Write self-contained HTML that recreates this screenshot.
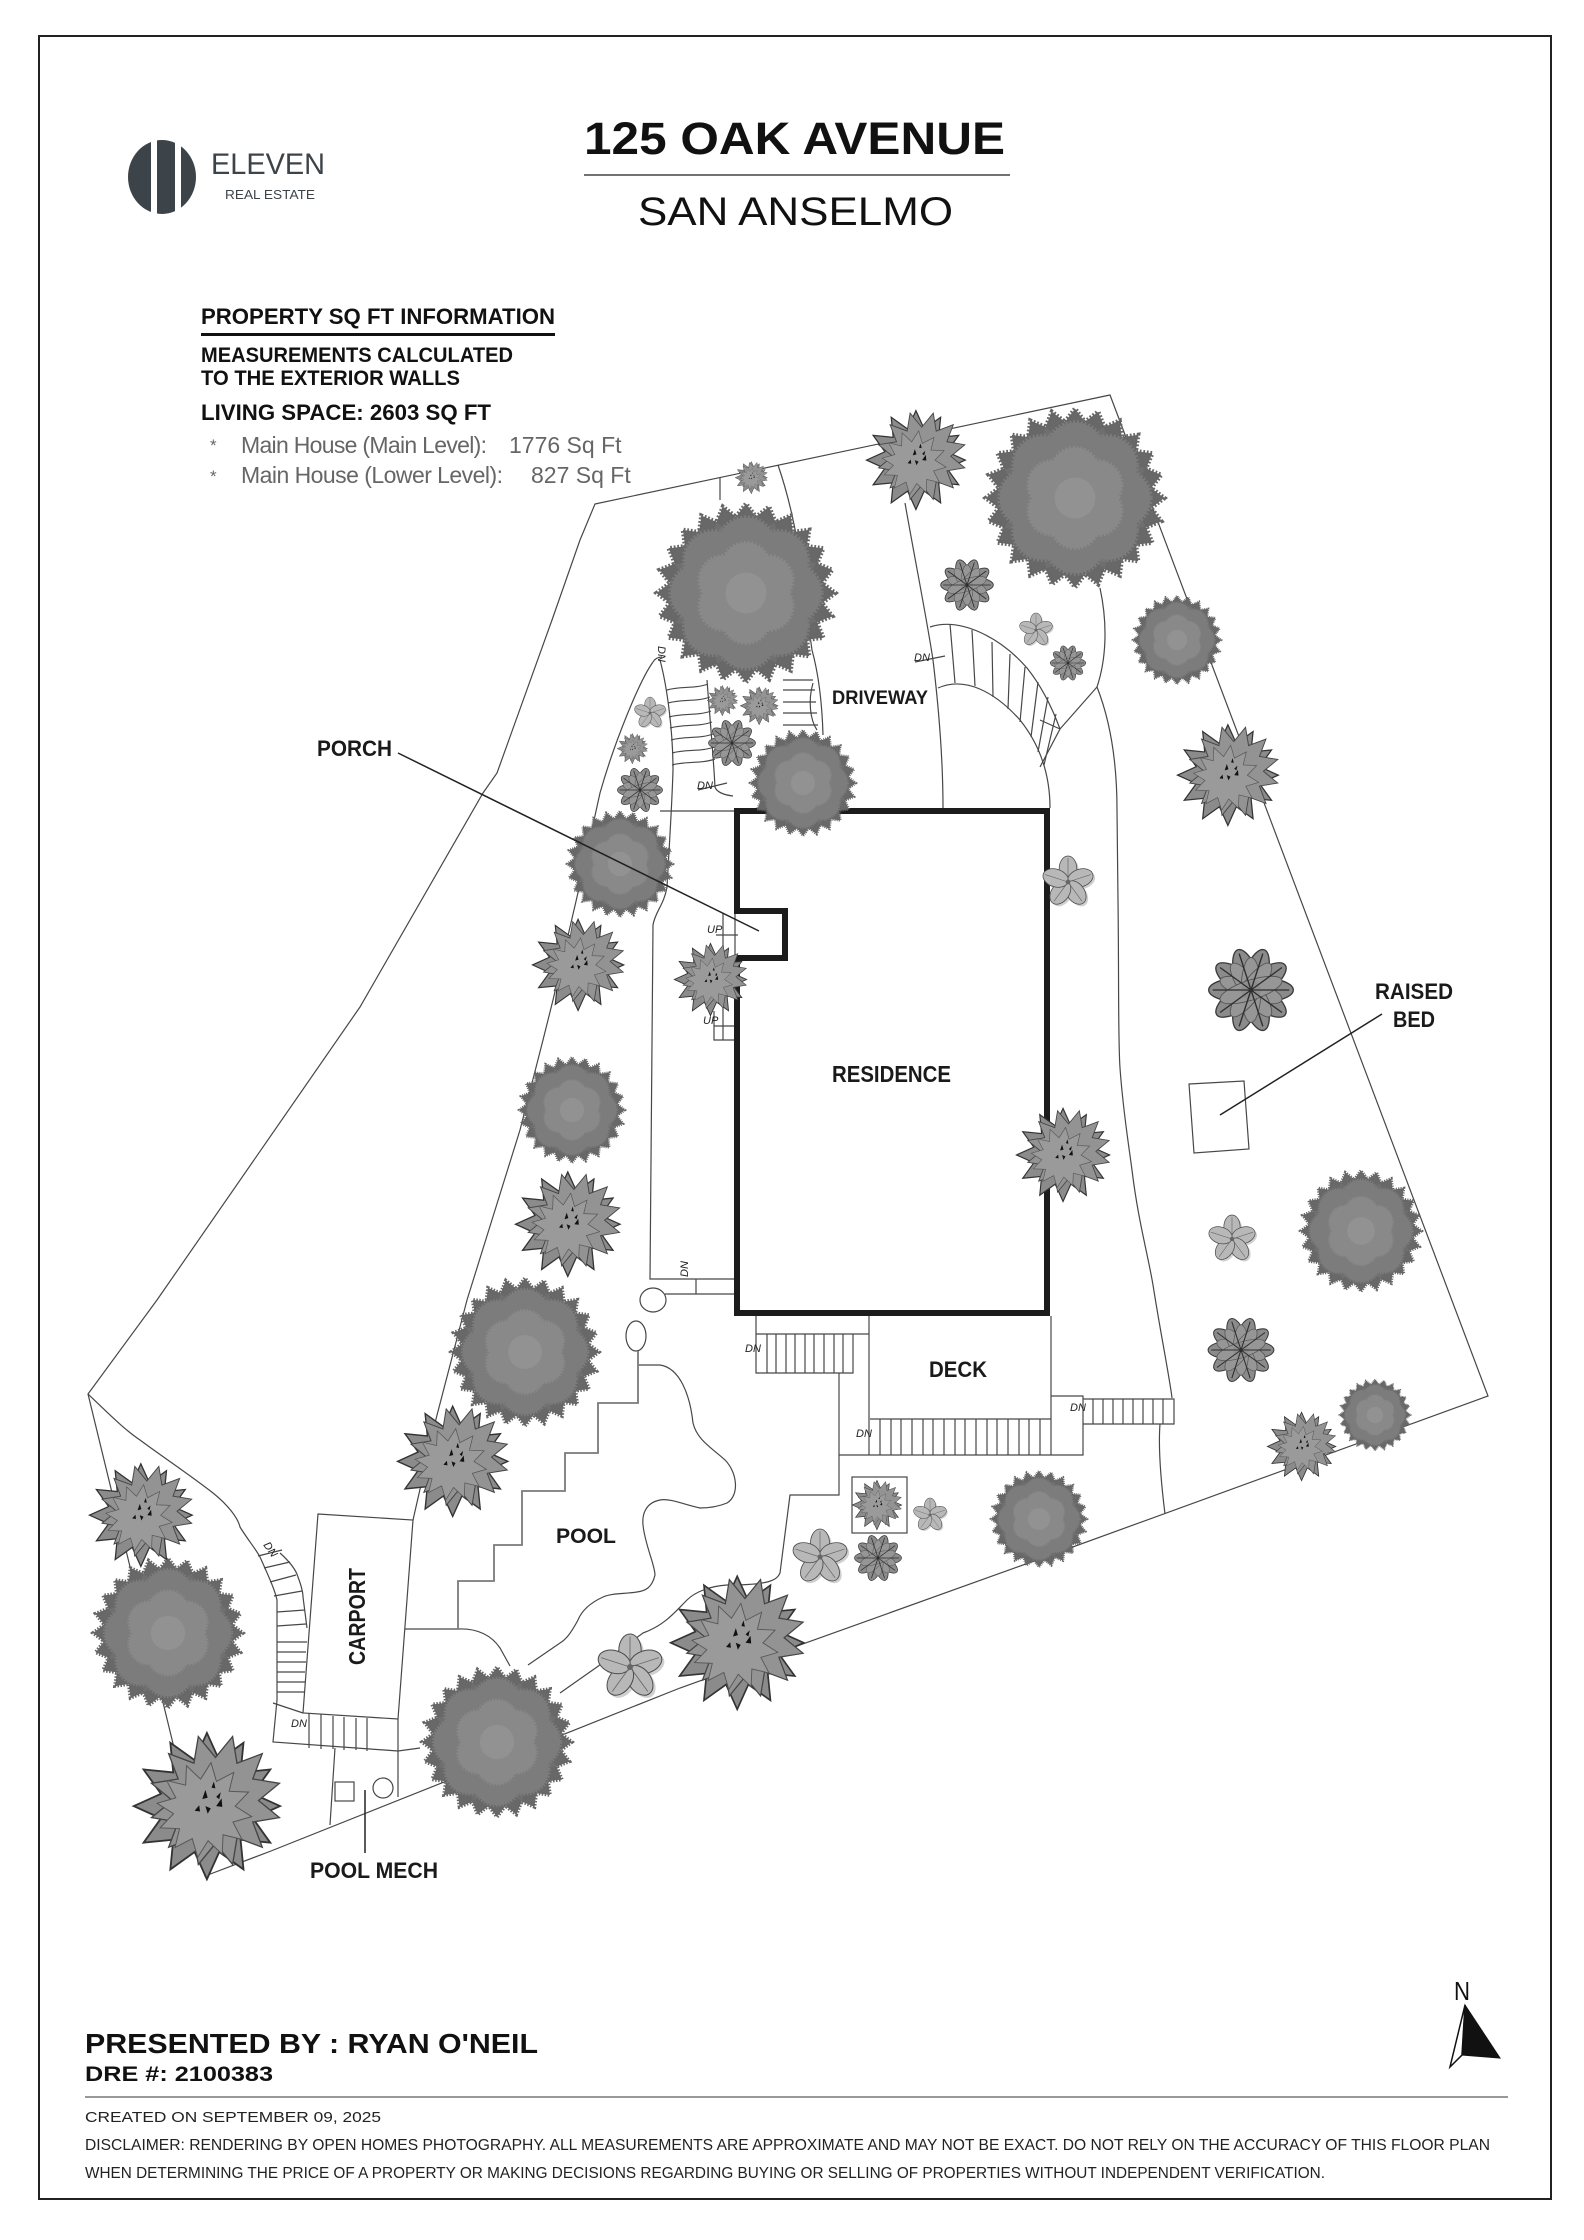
<!DOCTYPE html>
<html><head><meta charset="utf-8"><style>html,body{margin:0;padding:0;background:#fff}svg{display:block}</style></head>
<body>
<svg xmlns="http://www.w3.org/2000/svg" xmlns:xlink="http://www.w3.org/1999/xlink" width="1584" height="2240" viewBox="0 0 1584 2240" font-family="'Liberation Sans', Arial, sans-serif">
<defs>
<polygon id="sp" points="100,0 62.8,16.8 86.6,50 46,46 50,86.6 16.8,62.8 0,100 -16.8,62.8 -50,86.6 -46,46 -86.6,50 -62.8,16.8 -100,0 -62.8,-16.8 -86.6,-50 -46,-46 -50,-86.6 -16.8,-62.8 0,-100 16.8,-62.8 50,-86.6 46,-46 86.6,-50 62.8,-16.8"/>
<polygon id="cp" points="100,0 85.3,11.2 96.6,25.9 79.5,32.9 86.6,50 68.2,52.4 70.7,70.7 52.4,68.2 50,86.6 32.9,79.5 25.9,96.6 11.2,85.3 0,100 -11.2,85.3 -25.9,96.6 -32.9,79.5 -50,86.6 -52.4,68.2 -70.7,70.7 -68.2,52.4 -86.6,50 -79.5,32.9 -96.6,25.9 -85.3,11.2 -100,0 -85.3,-11.2 -96.6,-25.9 -79.5,-32.9 -86.6,-50 -68.2,-52.4 -70.7,-70.7 -52.4,-68.2 -50,-86.6 -32.9,-79.5 -25.9,-96.6 -11.2,-85.3 0,-100 11.2,-85.3 25.9,-96.6 32.9,-79.5 50,-86.6 52.4,-68.2 70.7,-70.7 68.2,-52.4 86.6,-50 79.5,-32.9 96.6,-25.9 85.3,-11.2"/>
<symbol id="star" viewBox="-100 -100 200 200" overflow="visible">
 <use href="#sp" fill="#8b8b8b" stroke="#333" stroke-width="2.5" transform="translate(-4,4) scale(0.95)"/>
 <use href="#sp" fill="#939393" stroke="#444" stroke-width="2" transform="rotate(15) translate(6,-5) scale(0.86)"/>
 <use href="#sp" fill="#9a9a9a" stroke="#555" stroke-width="2" transform="rotate(8) translate(-6,10) scale(0.62)"/>
 <path fill="#111" d="M-10,-5 l4,-12 l3,10z M8,4 l7,-10 l1,11z M-3,14 l-3,-10 l7,3z M14,-14 l-2,9 l-4,-3z M-20,10 l6,-7 l1,8z M2,-20 l3,-8 l2,9z"/>
</symbol>
<symbol id="canopy" viewBox="-100 -100 200 200" overflow="visible">
 <use href="#cp" fill="#686868" stroke="#666" stroke-width="5" stroke-dasharray="2 2" transform="scale(0.96)"/>
 <use href="#cp" fill="#6f6f6f" transform="rotate(7) scale(0.82)"/>
 <g fill="#7c7c7c" stroke="#7c7c7c" stroke-width="5" stroke-dasharray="2 2">
  <circle cx="50" cy="0" r="31"/><circle cx="35.4" cy="35.4" r="31"/><circle cx="0" cy="50" r="31"/><circle cx="-35.4" cy="35.4" r="31"/>
  <circle cx="-50" cy="0" r="31"/><circle cx="-35.4" cy="-35.4" r="31"/><circle cx="0" cy="-50" r="31"/><circle cx="35.4" cy="-35.4" r="31"/>
 </g>
 <g fill="#898989" stroke="#898989" stroke-width="4" stroke-dasharray="2 2">
  <circle cx="24.2" cy="14" r="26"/><circle cx="0" cy="28" r="26"/><circle cx="-24.2" cy="14" r="26"/>
  <circle cx="-24.2" cy="-14" r="26"/><circle cx="0" cy="-28" r="26"/><circle cx="24.2" cy="-14" r="26"/>
 </g>
 <circle r="22" fill="#929292"/>
</symbol>
<symbol id="palm" viewBox="-100 -100 200 200" overflow="visible">
 <g fill="#8b8b8b" stroke="#3a3a3a" stroke-width="3">
  <ellipse rx="94" ry="30"/><ellipse rx="94" ry="30" transform="rotate(36)"/><ellipse rx="94" ry="30" transform="rotate(72)"/><ellipse rx="94" ry="30" transform="rotate(108)"/><ellipse rx="94" ry="30" transform="rotate(144)"/>
 </g>
 <g fill="#969696" stroke="#555" stroke-width="2">
  <ellipse rx="72" ry="22" transform="rotate(18)"/><ellipse rx="72" ry="22" transform="rotate(54)"/><ellipse rx="72" ry="22" transform="rotate(90)"/><ellipse rx="72" ry="22" transform="rotate(126)"/><ellipse rx="72" ry="22" transform="rotate(162)"/>
 </g>
 <circle r="22" fill="#8e8e8e"/>
 <path stroke="#2e2e2e" stroke-width="3" d="M0,0 L85,0 M0,0 L68.8,50 M0,0 L26.3,80.8 M0,0 L-26.3,80.8 M0,0 L-68.8,50 M0,0 L-85,0 M0,0 L-68.8,-50 M0,0 L-26.3,-80.8 M0,0 L26.3,-80.8 M0,0 L68.8,-50"/>
</symbol>
<symbol id="leaf" viewBox="-100 -100 200 200" overflow="visible">
 <g fill="#d0d0d0" transform="translate(8,8)">
  <ellipse cx="0" cy="-50" rx="34" ry="50"/><ellipse cx="0" cy="-50" rx="34" ry="50" transform="rotate(72)"/><ellipse cx="0" cy="-50" rx="34" ry="50" transform="rotate(144)"/><ellipse cx="0" cy="-50" rx="34" ry="50" transform="rotate(216)"/><ellipse cx="0" cy="-50" rx="34" ry="50" transform="rotate(288)"/>
 </g>
 <g fill="#b8b8b8" stroke="#4a4a4a" stroke-width="3">
  <ellipse cx="0" cy="-50" rx="34" ry="50"/><ellipse cx="0" cy="-50" rx="34" ry="50" transform="rotate(72)"/><ellipse cx="0" cy="-50" rx="34" ry="50" transform="rotate(144)"/><ellipse cx="0" cy="-50" rx="34" ry="50" transform="rotate(216)"/><ellipse cx="0" cy="-50" rx="34" ry="50" transform="rotate(288)"/>
 </g>
 <path stroke="#666" stroke-width="2.5" d="M0,0 L0,-92 M0,0 L87.5,-28.4 M0,0 L54,74.4 M0,0 L-54,74.4 M0,0 L-87.5,-28.4"/>
 <circle r="9" fill="#666"/>
</symbol>
</defs>

<rect width="1584" height="2240" fill="#fff"/>
<rect x="39" y="36" width="1512" height="2163" fill="none" stroke="#222" stroke-width="2"/>

<!-- logo -->
<ellipse cx="162" cy="177" rx="34" ry="37" fill="#3d4449"/>
<rect x="151" y="136" width="6" height="84" fill="#fff"/>
<rect x="175" y="136" width="6" height="84" fill="#fff"/>
<text x="211" y="174" font-size="30" fill="#3d4449" textLength="114" lengthAdjust="spacingAndGlyphs">ELEVEN</text>
<text x="225" y="199" font-size="13" fill="#3d4449" textLength="90" lengthAdjust="spacingAndGlyphs">REAL ESTATE</text>

<!-- title -->
<text x="584" y="154" font-size="45" font-weight="bold" fill="#111" textLength="421" lengthAdjust="spacingAndGlyphs">125 OAK AVENUE</text>
<line x1="584" y1="175" x2="1010" y2="175" stroke="#444" stroke-width="1.5"/>
<text x="638" y="225" font-size="40" fill="#111" textLength="315" lengthAdjust="spacingAndGlyphs">SAN ANSELMO</text>

<!-- info -->
<text x="201" y="324" font-size="22" font-weight="bold" fill="#111" textLength="354" lengthAdjust="spacingAndGlyphs">PROPERTY SQ FT INFORMATION</text>
<rect x="201" y="333" width="354" height="3" fill="#111"/>
<text x="201" y="362" font-size="21" font-weight="bold" fill="#111" textLength="312" lengthAdjust="spacingAndGlyphs">MEASUREMENTS CALCULATED</text>
<text x="201" y="385" font-size="21" font-weight="bold" fill="#111" textLength="259" lengthAdjust="spacingAndGlyphs">TO THE EXTERIOR WALLS</text>
<text x="201" y="420" font-size="22" font-weight="bold" fill="#111" textLength="290" lengthAdjust="spacingAndGlyphs">LIVING SPACE: 2603 SQ FT</text>
<g fill="#666" font-size="23">
<text x="210" y="451" font-size="17">*</text>
<text x="241" y="453" textLength="246" lengthAdjust="spacing">Main House (Main Level):</text>
<text x="509" y="453">1776 Sq Ft</text>
<text x="210" y="482" font-size="17">*</text>
<text x="241" y="483" textLength="262" lengthAdjust="spacing">Main House (Lower Level):</text>
<text x="531" y="483">827 Sq Ft</text>
</g>

<!-- thin site lines -->
<g fill="none" stroke="#474747" stroke-width="1.2">
<path d="M595,504 L1110,395 L1488,1396 L1037,1560 L680,1688 L271,1851 L205,1876 L177,1760 L88,1394 L157,1300 L360,1007 L483,793 L497,773 L552,620 L580,540 Z"/>
<path d="M88,1394 C110,1415 125,1430 140,1440 C160,1455 190,1475 213,1493 C228,1505 238,1518 240,1527 C248,1540 255,1548 260,1557 C268,1575 275,1590 277,1600 L277,1700 L273,1742 L398,1751 L420,1748"/>
<path d="M280,1553 C290,1562 296,1570 298,1577 C301,1585 303,1592 303,1597 L307,1628"/>
<path d="M258,1556 L282,1550 M264,1568 L290,1562 M270,1582 L296,1575 M274,1596 L302,1591 M277,1612 L305,1610 M277,1626 L306,1624 M277,1642 L307,1642 M277,1652 L306,1652 M277,1662 L306,1662 M277,1672 L305,1672 M277,1682 L305,1682 M277,1692 L304,1692 M273,1703 L303,1713"/>
<path d="M318,1514 L413,1520 L398,1719 L303,1713 Z"/>
<path d="M309,1713 V1748 M321,1714 V1749 M333,1716 V1749 M344,1717 V1750 M356,1718 V1750 M367,1718 V1751"/>
<path d="M335,1748 L330,1825 M398,1719 V1797"/>
<rect x="335" y="1782" width="19" height="19"/>
<circle cx="383" cy="1788" r="10"/>
<path d="M653,662 C640,680 615,740 600,793 L577,897 L553,1000 L543,1040 L520,1130 L467,1300 L436,1419 L413,1520"/>
<path d="M405,1629 H458"/>
<path d="M653,662 Q656,657 662,657 M660,660 C668,690 673,735 673,770 C672,805 669,850 667,887 C664,905 655,912 653,925 L650,1279 H734 M665,1294 H734 M696,1279 V1294"/>
<path d="M667,690 C680,686 695,689 708,684 M668,703 C682,699 697,702 710,697 M669,717 C683,713 698,716 711,711 M670,728 C684,724 699,727 712,722 M671,740 C685,736 700,739 713,734 M672,753 C686,749 701,752 714,747 M672,765 C686,761 701,764 715,759"/>
<path d="M707,680 C710,720 713,750 715,787 C717,793 725,795 733,796 M660,811 H734"/>
<path d="M698,790 L727,783"/>
<path d="M716,935 H738 M723,913 V1040 M714,1011 V1040 H734 M714,1026 H737 M735,911 V958"/>
<path d="M720,477 V500"/>
<path d="M778,465 C790,500 800,545 805,600 L812,650 C818,672 822,700 823,735"/>
<path d="M783,680 H813 M783,690 H815 M783,702 H816 M783,713 H817 M783,725 H818 M813,683 C808,700 810,720 817,730"/>
<path d="M905,503 C915,560 927,620 933,660 C939,710 943,760 943,808"/>
<path d="M915,662 L945,656"/>
<path d="M930,627 C960,617 1000,637 1027,668 C1043,688 1053,710 1060,729 L1097,687 M1040,720 L1060,729 L1040,767"/>
<path d="M938,688 C965,676 995,692 1020,720 C1040,745 1050,775 1050,808"/>
<path d="M950,624 L955,683 M972,630 L975,686 M992,642 L993,697 M1010,654 L1008,709 M1025,667 L1020,722 M1038,682 L1031,737 M1048,697 L1038,752 M1056,714 L1044,765"/>
<path d="M1100,588 C1108,625 1106,660 1097,687 C1110,720 1117,760 1117,810 L1118,900 C1119,980 1118,1040 1120,1068 C1123,1110 1128,1140 1132,1170 C1138,1220 1148,1255 1153,1285 C1160,1330 1170,1380 1172,1398 M1160,1424 C1158,1450 1162,1490 1165,1514"/>
<path d="M756,1316 V1373 H853 V1334 M756,1334 H869 M869,1316 V1455 M1051,1316 V1455 M870,1419 H1051 M839,1455 H1083 V1396 H1051 M1083,1399 H1174 V1424 H1083"/>
<path d="M767,1334 V1373 M776,1334 V1373 M786,1334 V1373 M795,1334 V1373 M805,1334 V1373 M814,1334 V1373 M824,1334 V1373 M834,1334 V1373 M843,1334 V1373"/>
<path d="M880,1419 V1455 M891,1419 V1455 M901,1419 V1455 M912,1419 V1455 M923,1419 V1455 M933,1419 V1455 M944,1419 V1455 M955,1419 V1455 M965,1419 V1455 M976,1419 V1455 M987,1419 V1455 M997,1419 V1455 M1008,1419 V1455 M1019,1419 V1455 M1029,1419 V1455 M1040,1419 V1455"/>
<path d="M1093,1399 V1424 M1103,1399 V1424 M1113,1399 V1424 M1123,1399 V1424 M1133,1399 V1424 M1143,1399 V1424 M1153,1399 V1424 M1163,1399 V1424"/>
<path d="M839,1373 V1495 H790 L780,1573 C777,1580 770,1585 727,1585 C710,1586 695,1592 687,1600 C675,1612 665,1625 643,1633 L597,1667 L560,1693"/>
<rect x="852" y="1477" width="55" height="56"/>
<ellipse cx="653" cy="1300" rx="13" ry="12"/>
<ellipse cx="636" cy="1336" rx="10" ry="15"/>
<path d="M638,1365 H660 C680,1368 690,1395 693,1423 C697,1440 712,1448 725,1460 C737,1472 740,1495 727,1503 C715,1508 705,1508 700,1508 C685,1505 670,1498 660,1500 C645,1503 642,1515 643,1525 C645,1545 655,1565 655,1575 C652,1588 645,1591 637,1592 C625,1594 612,1593 603,1597 C590,1603 582,1610 578,1620 C570,1635 565,1640 560,1643 L528,1665"/>
<path d="M458,1629 C478,1628 492,1636 500,1648 L510,1666"/>
<polygon points="1189,1084 1244,1081 1249,1149 1194,1153"/>
</g>
<path d="M638,1351 V1403 H598 V1453 H565 V1491 H522 V1545 H494 V1581 H458 V1629" fill="none" stroke="#7a7a7a" stroke-width="1.8"/>

<!-- residence -->
<path d="M737,811 H1047 V1313 H737 V958 H785 V911 H737 Z" fill="none" stroke="#1c1c1c" stroke-width="6"/>

<!-- trees: canopy -->
<use href="#canopy" x="653" y="500" width="186" height="186"/>
<use href="#canopy" x="982" y="405" width="186" height="186"/>
<use href="#canopy" x="1131" y="594" width="92" height="92"/>
<use href="#canopy" x="748" y="728" width="110" height="110"/>
<use href="#canopy" x="565" y="809" width="110" height="110"/>
<use href="#canopy" x="517" y="1055" width="110" height="110"/>
<use href="#canopy" x="448" y="1275" width="154" height="154"/>
<use href="#canopy" x="90" y="1555" width="156" height="156"/>
<use href="#canopy" x="419" y="1664" width="156" height="156"/>
<use href="#canopy" x="989" y="1469" width="100" height="100"/>
<use href="#canopy" x="1298" y="1168" width="126" height="126"/>
<use href="#canopy" x="1338" y="1378" width="74" height="74"/>
<!-- star -->
<use href="#star" x="866" y="406" width="104" height="104"/>
<use href="#star" x="735" y="460" width="34" height="34"/>
<use href="#star" x="707" y="684" width="32" height="32"/>
<use href="#star" x="740" y="685" width="40" height="40"/>
<use href="#star" x="617" y="732" width="32" height="32"/>
<use href="#star" x="1177" y="720" width="106" height="106"/>
<use href="#star" x="532" y="915" width="96" height="96"/>
<use href="#star" x="674" y="940" width="76" height="76"/>
<use href="#star" x="515" y="1167" width="110" height="110"/>
<use href="#star" x="1016" y="1104" width="98" height="98"/>
<use href="#star" x="397" y="1401" width="116" height="116"/>
<use href="#star" x="89" y="1459" width="108" height="108"/>
<use href="#star" x="133" y="1726" width="154" height="154"/>
<use href="#star" x="670" y="1570" width="140" height="140"/>
<use href="#star" x="1267" y="1409" width="72" height="72"/>
<use href="#star" x="852" y="1478" width="52" height="52"/>
<!-- palm -->
<use href="#palm" x="939" y="557" width="56" height="56"/>
<use href="#palm" x="1049" y="644" width="38" height="38"/>
<use href="#palm" x="707" y="718" width="50" height="50"/>
<use href="#palm" x="616" y="766" width="48" height="48"/>
<use href="#palm" x="1204" y="945" width="94" height="90"/>
<use href="#palm" x="1206" y="1315" width="70" height="70"/>
<use href="#palm" x="853" y="1533" width="50" height="50"/>
<!-- leaf -->
<use href="#leaf" x="1019" y="613" width="34" height="34"/>
<use href="#leaf" x="634" y="697" width="32" height="32"/>
<use href="#leaf" x="1042" y="856" width="52" height="52"/>
<use href="#leaf" x="1208" y="1215" width="48" height="48"/>
<use href="#leaf" x="792" y="1529" width="56" height="56"/>
<use href="#leaf" x="597" y="1634" width="66" height="66"/>
<use href="#leaf" x="913" y="1498" width="34" height="34"/>

<!-- leaders -->
<line x1="398" y1="753" x2="759" y2="931" stroke="#222" stroke-width="1.5"/>
<line x1="1382" y1="1014" x2="1220" y2="1115" stroke="#222" stroke-width="1.5"/>
<line x1="365" y1="1790" x2="365" y2="1853" stroke="#222" stroke-width="1.5"/>

<g font-size="11" font-style="italic" fill="#222">
<text x="914" y="661">DN</text>
<text x="697" y="789">DN</text>
<text x="707" y="933">UP</text>
<text x="703" y="1024">UP</text>
<text x="745" y="1352">DN</text>
<text x="856" y="1437">DN</text>
<text x="1070" y="1411">DN</text>
<text x="291" y="1727">DN</text>
<text transform="translate(658,646) rotate(90)">DN</text>
<text transform="translate(688,1277) rotate(-90)">DN</text>
<text transform="translate(263,1545) rotate(55)">DN</text>
</g>

<g font-weight="bold" fill="#1a1a1a" font-size="22">
<text x="317" y="756" textLength="75" lengthAdjust="spacingAndGlyphs">PORCH</text>
<text x="832" y="704" font-size="19" textLength="96" lengthAdjust="spacingAndGlyphs">DRIVEWAY</text>
<text x="832" y="1082" font-size="23" textLength="119" lengthAdjust="spacingAndGlyphs">RESIDENCE</text>
<text x="929" y="1377" textLength="58" lengthAdjust="spacingAndGlyphs">DECK</text>
<text x="556" y="1543" font-size="21" textLength="60" lengthAdjust="spacingAndGlyphs">POOL</text>
<text transform="translate(365,1665) rotate(-90)" font-size="23" textLength="97" lengthAdjust="spacingAndGlyphs">CARPORT</text>
<text x="310" y="1878" textLength="128" lengthAdjust="spacingAndGlyphs">POOL MECH</text>
<text x="1375" y="999" textLength="78" lengthAdjust="spacingAndGlyphs">RAISED</text>
<text x="1393" y="1027" textLength="42" lengthAdjust="spacingAndGlyphs">BED</text>
</g>

<text x="1454" y="2000" font-size="26" fill="#111" textLength="16" lengthAdjust="spacingAndGlyphs">N</text>
<polygon points="1465,2005 1450,2067 1462,2055" fill="#fff" stroke="#111" stroke-width="1.5"/>
<polygon points="1465,2005 1500,2058 1462,2055" fill="#111" stroke="#111" stroke-width="1"/>

<text x="85" y="2053" font-size="28" font-weight="bold" fill="#111" textLength="453" lengthAdjust="spacingAndGlyphs">PRESENTED BY : RYAN O'NEIL</text>
<text x="85" y="2081" font-size="21" font-weight="bold" fill="#111" textLength="188" lengthAdjust="spacingAndGlyphs">DRE #: 2100383</text>
<line x1="85" y1="2097" x2="1508" y2="2097" stroke="#999" stroke-width="2"/>
<text x="85" y="2122" font-size="15" fill="#222" textLength="296" lengthAdjust="spacingAndGlyphs">CREATED ON SEPTEMBER 09, 2025</text>
<text x="85" y="2150" font-size="16" fill="#222" textLength="1405" lengthAdjust="spacingAndGlyphs">DISCLAIMER: RENDERING BY OPEN HOMES PHOTOGRAPHY. ALL MEASUREMENTS ARE APPROXIMATE AND MAY NOT BE EXACT. DO NOT RELY ON THE ACCURACY OF THIS FLOOR PLAN</text>
<text x="85" y="2178" font-size="16" fill="#222" textLength="1240" lengthAdjust="spacingAndGlyphs">WHEN DETERMINING THE PRICE OF A PROPERTY OR MAKING DECISIONS REGARDING BUYING OR SELLING OF PROPERTIES WITHOUT INDEPENDENT VERIFICATION.</text>
</svg>
</body></html>
